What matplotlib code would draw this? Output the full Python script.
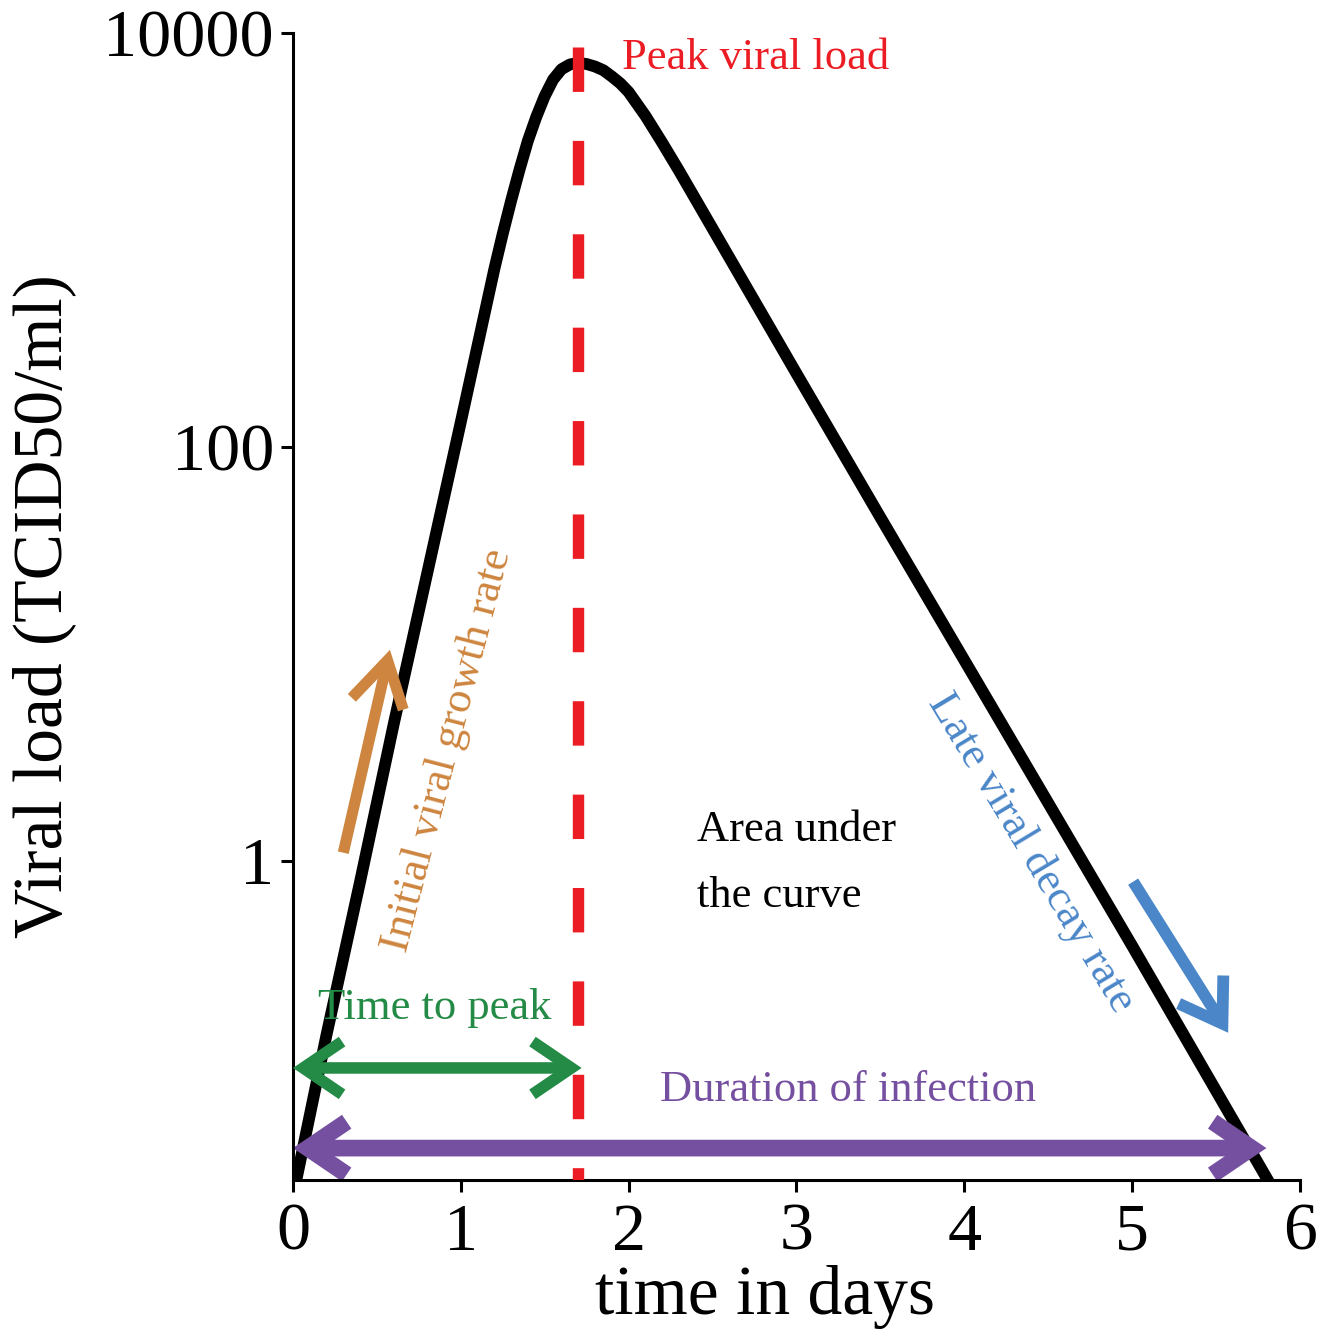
import numpy as np
import matplotlib

matplotlib.use("Agg")
import matplotlib.pyplot as plt  # noqa: E402

plt.rcParams["font.family"] = ["Liberation Serif", "DejaVu Serif"]

# viral load curve (log10 TCID50/ml)
time_days = [0.0, 0.2, 0.4, 0.6, 0.8, 1.0, 1.1, 1.2, 1.25, 1.3, 1.35, 1.4, 1.45, 1.5,
             1.55, 1.6, 1.65, 1.7, 1.75, 1.8, 1.85, 1.9, 1.95, 2.0, 2.1, 2.2, 2.3,
             2.4, 2.5, 2.6, 2.8, 3.0, 3.5, 4.0, 4.5, 5.0, 5.5, 5.85]
log_load = [-1.62, -0.84, -0.10, 0.66, 1.39, 2.12, 2.49, 2.86, 3.03, 3.19, 3.34, 3.48, 3.595, 3.695,
            3.775, 3.825, 3.848, 3.856, 3.85, 3.838, 3.82, 3.79, 3.757, 3.715, 3.60, 3.47, 3.335,
            3.195, 3.055, 2.915, 2.635, 2.355, 1.66, 0.97, 0.28, -0.41, -1.11, -1.60]
viral_load = [10 ** v for v in log_load]

peak_time = 1.7
peak_line_top = 10 ** 3.93
time_to_peak = (0.0, 1.72)
duration = (0.0, 5.80)

y_ticks = [1, 100, 10000]
y_tick_labels = ["1", "100", "10000"]
x_ticks = [0, 1, 2, 3, 4, 5, 6]

RED = "#ec1c24"
GREEN = "#238b45"
PURPLE = "#7650a0"
ORANGE = "#cd853f"
BLUE = "#4a86c8"

fig = plt.figure(figsize=(13.34, 13.31), dpi=100)
ax = fig.add_axes([0.2196, 0.1135, 0.7549, 0.8617])

ax.plot([peak_time, peak_time], [peak_line_top, 0.02], color=RED, lw=8.2,
        dashes=(3.9, 4.3), solid_capstyle="butt", dash_capstyle="butt", zorder=3)
ax.plot(time_days, viral_load, color="black", lw=8.5, zorder=2,
        solid_joinstyle="round", solid_capstyle="butt")


def arrow(tail, head, color, lw, style, hl, hw, z=4):
    ax.annotate("", xy=head, xytext=tail,
                arrowprops=dict(arrowstyle=f"{style},head_length={hl},head_width={hw}",
                                color=color, lw=lw, shrinkA=0, shrinkB=0,
                                mutation_scale=1, joinstyle="miter", capstyle="butt"),
                zorder=z)


# time to peak / duration of infection
arrow((time_to_peak[0], 0.1), (time_to_peak[1], 0.1), GREEN, 8.3, "<->", 28, 19, z=4)
arrow((duration[0], 0.041), (duration[1], 0.041), PURPLE, 12.0, "<->", 28, 19, z=2.5)
# growth / decay
arrow((0.30, 10 ** 0.04), (0.578, 10 ** 1.02), ORANGE, 8.0, "->", 32, 19)
arrow((5.006, 10 ** -0.10), (5.572, 10 ** -0.83), BLUE, 8.5, "->", 29, 19)

fs_ann = 32
ax.text(1.96, 10 ** 3.88, "Peak viral load", color=RED, fontsize=fs_ann,
        ha="left", va="center")
ax.text(2.41, 10 ** -0.01, "Area under\nthe curve", color="black", fontsize=fs_ann,
        ha="left", va="center", linespacing=1.83)
ax.text(0.149, 10 ** -0.71, "Time to peak", color=GREEN, fontsize=fs_ann,
        ha="left", va="center")
ax.text(2.187, 10 ** -1.106, "Duration of infection", color=PURPLE, fontsize=fs_ann,
        ha="left", va="center")
ax.text(0.92, 10 ** 0.536, "Initial viral growth rate", color=ORANGE, fontsize=fs_ann,
        ha="center", va="center", rotation=75.5, rotation_mode="anchor")
ax.text(4.40, 10 ** 0.04, "Late viral decay rate", color=BLUE, fontsize=fs_ann,
        ha="center", va="center", rotation=-59, rotation_mode="anchor")

ax.set_yscale("log")
ax.set_xlim(0, 6)
ax.set_ylim(10 ** -1.541, 10000)
ax.set_yticks(y_ticks)
ax.set_yticklabels(y_tick_labels)
ax.yaxis.set_minor_locator(matplotlib.ticker.NullLocator())
ax.set_xticks(x_ticks)

for side in ("top", "right"):
    ax.spines[side].set_visible(False)
for side in ("left", "bottom"):
    ax.spines[side].set_linewidth(2.2)
ax.tick_params(axis="both", which="major", length=8.6, width=2.2, labelsize=49)
ax.tick_params(axis="y", pad=5)
ax.tick_params(axis="x", pad=8)

ax.set_xlabel("time in days", fontsize=50)
ax.set_ylabel("Viral load (TCID50/ml)", fontsize=50)
ax.xaxis.set_label_coords(0.469, -0.074)
ax.yaxis.set_label_coords(-0.215, 0.5)

fig.savefig("out.png", dpi=100)
